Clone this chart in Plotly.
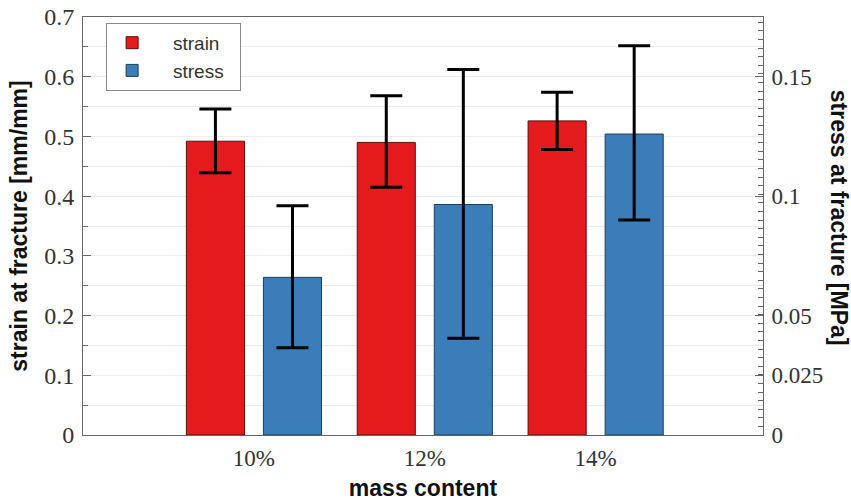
import plotly.graph_objects as go

categories = ["10%", "12%", "14%"]
strain = [0.492, 0.490, 0.526]
strain_upper = [0.546, 0.568, 0.574]
strain_lower = [0.439, 0.415, 0.478]
stress = [0.066, 0.0965, 0.126]
stress_upper = [0.096, 0.153, 0.163]
stress_lower = [0.0365, 0.0405, 0.090]
right_ticks = [0, 0.025, 0.05, 0.1, 0.15]
left_ticks = [0, 0.1, 0.2, 0.3, 0.4, 0.5, 0.6, 0.7]

RED = "#E41A1C"
BLUE = "#3A7DB9"
SERIF = "Liberation Serif, Times New Roman, serif"
SANS = "Liberation Sans, Arial, sans-serif"
NB = "&nbsp;"

fig = go.Figure()
fig.add_trace(go.Bar(
    x=categories, y=strain, name=NB * 3 + "strain" + NB * 2, yaxis="y",
    marker=dict(color=RED, line=dict(color="#5a1010", width=1)),
    width=0.34, offset=-0.395,
    error_y=dict(type="data", symmetric=False,
                 array=[u - v for u, v in zip(strain_upper, strain)],
                 arrayminus=[v - l for v, l in zip(strain, strain_lower)],
                 color="black", thickness=3, width=16),
))
fig.add_trace(go.Bar(
    x=categories, y=stress, name=NB * 3 + "stress" + NB * 2, yaxis="y2",
    marker=dict(color=BLUE, line=dict(color="#1d3f5e", width=1)),
    width=0.34, offset=0.056,
    error_y=dict(type="data", symmetric=False,
                 array=[u - v for u, v in zip(stress_upper, stress)],
                 arrayminus=[v - l for v, l in zip(stress, stress_lower)],
                 color="black", thickness=3, width=16),
))

fig.update_layout(
    width=851, height=504,
    margin=dict(l=83, r=88, t=17, b=69, autoexpand=False),
    paper_bgcolor="white", plot_bgcolor="white",
    showlegend=True,
    legend=dict(x=0.034, y=0.986, xanchor="left", yanchor="top",
                bordercolor="#8a8a8a", borderwidth=1, bgcolor="white",
                font=dict(family=SANS, size=19, color="#333"),
                itemwidth=40, tracegroupgap=0),
    xaxis=dict(type="category", range=[-1, 2.98],
               showline=True, linecolor="#666", linewidth=1, mirror=True,
               ticks="", showgrid=False, ticklabelstandoff=2,
               tickfont=dict(family=SERIF, size=23, color="#333"),
               title=dict(text="mass content", standoff=10,
                          font=dict(family=SANS, size=23, color="#111", weight="bold"))),
    yaxis=dict(range=[0, 0.7], tickvals=left_ticks,
               ticktext=[("%g" % v) for v in left_ticks],
               showline=True, linecolor="#666", linewidth=1,
               ticks="inside", ticklen=8, tickcolor="#666",
               ticklabelstandoff=3,
               minor=dict(dtick=0.05, ticks="inside", ticklen=5, tickcolor="#666",
                          showgrid=True, gridcolor="#ececec"),
               showgrid=True, gridcolor="#ececec", zeroline=False,
               tickfont=dict(family=SERIF, size=24, color="#333"),
               title=dict(text="strain at fracture [mm/mm]", standoff=10,
                          font=dict(family=SANS, size=23, color="#111", weight="bold"))),
    yaxis2=dict(range=[0, 0.175], overlaying="y", side="right",
                tickvals=right_ticks, ticktext=[("%g" % v) for v in right_ticks],
                showline=True, linecolor="#666", linewidth=1,
                ticks="inside", ticklen=8, tickcolor="#666",
                ticklabelstandoff=3,
                minor=dict(dtick=0.0036, ticks="inside", ticklen=5, tickcolor="#666"),
                showgrid=False, zeroline=False,
                tickfont=dict(family=SERIF, size=23, color="#333")),
    annotations=[dict(text="stress at fracture [MPa]", textangle=90,
                      xref="paper", yref="paper", x=1.113, y=0.52,
                      xanchor="center", yanchor="middle", showarrow=False,
                      font=dict(family=SANS, size=23, color="#111", weight="bold"))],
)

fig.write_html("out.html", config={"displayModeBar": False},
               post_script="document.body.style.margin='0';")
